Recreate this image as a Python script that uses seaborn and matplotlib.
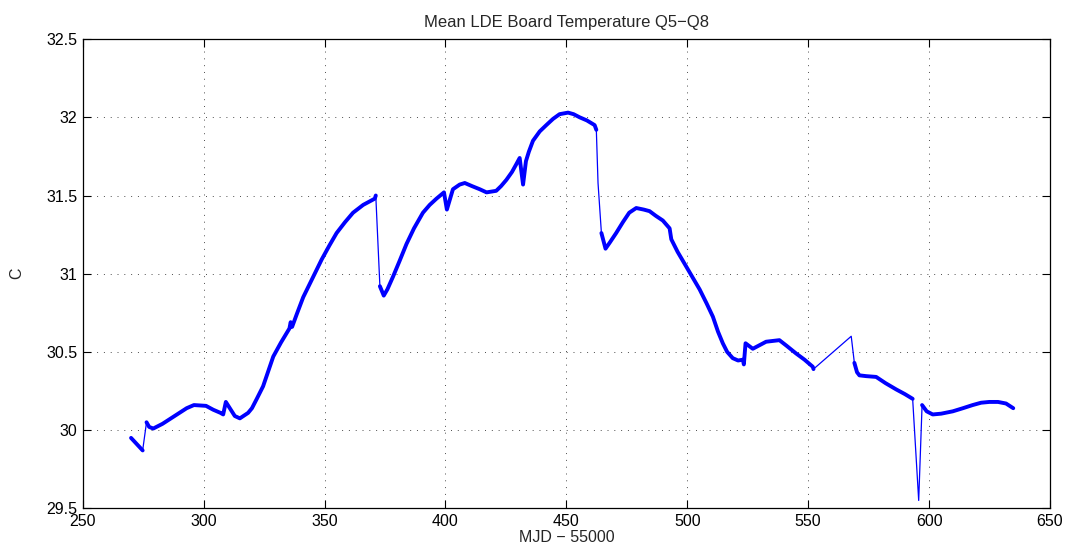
import numpy as np
import pandas as pd
import matplotlib
matplotlib.use("Agg")
import matplotlib.pyplot as plt
import seaborn as sns

# ------------------------------------------
# data
# ------------------------------------------
mjd = [270.0, 274.8, 276.4, 277.5, 279.2, 283.0, 286.0, 290.0, 293.0, 296.0,
       301.0, 304.0, 307.0, 308.1, 309.2, 312.9, 315.0, 318.4, 320.0, 322.0,
       324.6, 328.8, 332.0, 335.5, 336.0, 336.6, 338.5, 341.2, 345.0, 348.8,
       352.0, 355.0, 358.5, 361.8, 366.0, 370.8, 371.2, 372.2, 372.9, 374.5,
       376.0, 378.3, 381.0, 383.9, 387.0, 390.7, 393.5, 396.3, 399.4, 400.6,
       403.1, 405.9, 408.0, 411.0, 414.2, 417.0, 421.0, 423.0, 425.2, 427.5,
       429.3, 430.7, 432.1, 433.3, 434.5, 436.2, 439.0, 441.7, 444.5, 447.2,
       450.7, 453.0, 455.5, 458.5, 461.7, 462.4, 463.1, 464.5, 466.2, 468.0,
       470.6, 473.4, 476.0, 478.9, 482.0, 484.4, 487.0, 489.9, 492.7, 493.4,
       496.0, 499.6, 505.1, 508.0, 510.6, 512.7, 514.7, 516.5, 518.8, 521.0,
       523.0, 523.4, 524.1, 527.1, 532.6, 538.1, 541.0, 545.0, 548.5, 551.9,
       552.2, 567.8, 569.1, 570.2, 571.2, 574.0, 578.1, 582.0, 586.4, 590.0,
       593.2, 595.7, 597.1, 599.0, 601.5, 605.0, 609.8, 614.0, 618.0, 621.5,
       624.9, 628.5, 631.8, 634.8]

temp = [29.95, 29.87, 30.05, 30.02, 30.01, 30.04, 30.07, 30.11, 30.14, 30.16,
        30.155, 30.13, 30.11, 30.10, 30.18, 30.09, 30.075, 30.11, 30.14, 30.20,
        30.28, 30.47, 30.56, 30.65, 30.69, 30.66, 30.74, 30.85, 30.97, 31.09,
        31.18, 31.26, 31.33, 31.39, 31.44, 31.48, 31.50, 31.15, 30.92, 30.86,
        30.90, 30.98, 31.08, 31.19, 31.29, 31.39, 31.44, 31.48, 31.52, 31.41,
        31.54, 31.57, 31.58, 31.56, 31.54, 31.52, 31.53, 31.56, 31.60, 31.65,
        31.70, 31.74, 31.57, 31.72, 31.78, 31.85, 31.91, 31.95, 31.99, 32.02,
        32.03, 32.02, 32.00, 31.98, 31.95, 31.92, 31.58, 31.26, 31.16, 31.20,
        31.26, 31.33, 31.39, 31.42, 31.41, 31.40, 31.37, 31.34, 31.29, 31.22,
        31.14, 31.045, 30.90, 30.81, 30.725, 30.63, 30.555, 30.50, 30.46, 30.445,
        30.45, 30.42, 30.555, 30.52, 30.565, 30.575, 30.54, 30.49, 30.45, 30.405,
        30.39, 30.60, 30.43, 30.37, 30.35, 30.345, 30.34, 30.30, 30.26, 30.23,
        30.20, 29.55, 30.16, 30.12, 30.10, 30.105, 30.12, 30.14, 30.16, 30.175,
        30.18, 30.18, 30.17, 30.14]

# points after which the curve only has a thin connector (jumps / data gaps)
jump_starts = [274.8, 371.2, 372.2, 462.4, 463.1,
               552.2, 567.8, 593.2, 595.7]

xticks = [250, 300, 350, 400, 450, 500, 550, 600, 650]
yticks = [29.5, 30, 30.5, 31, 31.5, 32, 32.5]
ytick_labels = ["29.5", "30", "30.5", "31", "31.5", "32", "32.5"]

df = pd.DataFrame({"mjd": mjd, "temp": temp})
prev_jump = df["mjd"].shift(1).isin(jump_starts)
df["piece"] = prev_jump.cumsum()

# ------------------------------------------
# plot
# ------------------------------------------
sns.set_style("ticks")
plt.rcParams["font.family"] = ["Liberation Sans", "DejaVu Sans"]

fig = plt.figure(figsize=(10.71, 5.58), dpi=100)
ax = fig.add_axes([0.0772, 0.0891, 0.9032, 0.8408])

# thin line through everything (connectors), thick noisy band on top
sns.lineplot(data=df, x="mjd", y="temp", color="#0000ff", linewidth=0.9,
             estimator=None, sort=False, ax=ax)
sns.lineplot(data=df, x="mjd", y="temp", units="piece", color="#0000ff",
             linewidth=2.8, estimator=None, sort=False, ax=ax,
             solid_joinstyle="round", solid_capstyle="round")

ax.set_xlim(250, 650)
ax.set_ylim(29.5, 32.5)
ax.set_xticks(xticks)
ax.set_yticks(yticks)
ax.set_yticklabels(ytick_labels)

ax.grid(True, color="black", linestyle=(0, (1, 6)), linewidth=0.7, alpha=0.7)
ax.tick_params(direction="in", top=True, right=True, length=6, width=0.8,
               labelsize=11.5, pad=4, colors="black")
for sp in ax.spines.values():
    sp.set_visible(True)
    sp.set_linewidth(0.9)
    sp.set_color("black")

ax.set_title("Mean LDE Board Temperature Q5\u2212Q8", fontsize=12, pad=9)
ax.set_xlabel("MJD \u2212 55000", fontsize=11.5, labelpad=1)
ax.set_ylabel("C", fontsize=11.5, labelpad=16)

fig.savefig("out.png", dpi=100, facecolor="white")
